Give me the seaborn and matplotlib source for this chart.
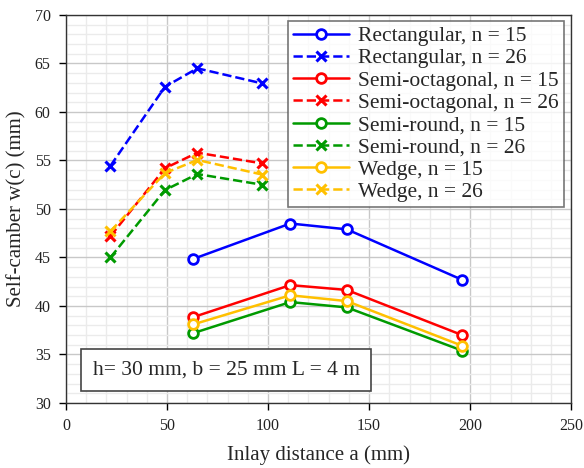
import pandas as pd
import matplotlib.pyplot as plt
import seaborn as sns
from matplotlib.ticker import MultipleLocator

sns.set_style("white")
plt.rcParams['font.family'] = ['Liberation Serif', 'DejaVu Serif']

# inlay distances
a_n15 = [63, 111, 139, 196]
a_n26 = [22, 49, 65, 97]

# self-camber values (mm)
rect_15 = [44.85, 48.5, 47.9, 42.7]
rect_26 = [54.45, 62.6, 64.5, 62.95]
octa_15 = [38.85, 42.15, 41.65, 37.0]
octa_26 = [47.2, 54.2, 55.8, 54.7]
round_15 = [37.2, 40.4, 39.85, 35.4]
round_26 = [45.0, 51.95, 53.6, 52.5]
wedge_15 = [38.1, 41.1, 40.5, 35.9]
wedge_26 = [47.7, 53.7, 55.05, 53.55]

series = [
    ("Rectangular, n = 15", a_n15, rect_15, "#0000FF", "-", "o"),
    ("Rectangular, n = 26", a_n26, rect_26, "#0000FF", "--", "x"),
    ("Semi-octagonal, n = 15", a_n15, octa_15, "#FF0000", "-", "o"),
    ("Semi-octagonal, n = 26", a_n26, octa_26, "#FF0000", "--", "x"),
    ("Semi-round, n = 15", a_n15, round_15, "#009A00", "-", "o"),
    ("Semi-round, n = 26", a_n26, round_26, "#009A00", "--", "x"),
    ("Wedge, n = 15", a_n15, wedge_15, "#FFC000", "-", "o"),
    ("Wedge, n = 26", a_n26, wedge_26, "#FFC000", "--", "x"),
]

fig, ax = plt.subplots(figsize=(5.84, 4.68), dpi=100)
fig.subplots_adjust(left=0.113, right=0.978, top=0.968, bottom=0.139)

for label, xs, ys, col, ls, mk in series:
    df = pd.DataFrame({'a': xs, 'w': ys})
    if mk == "o":
        sns.lineplot(data=df, x='a', y='w', ax=ax, color=col, linestyle=ls, lw=1.8,
                     marker='o', markersize=7, markerfacecolor='white',
                     markeredgecolor=col, markeredgewidth=2, label=label)
    else:
        sns.lineplot(data=df, x='a', y='w', ax=ax, color=col, linestyle=ls, lw=1.8,
                     marker='x', markersize=7, markeredgecolor=col,
                     markeredgewidth=2.2, label=label)

ax.set_xlim(0, 250)
ax.set_ylim(30, 70)
ax.xaxis.set_major_locator(MultipleLocator(50))
ax.xaxis.set_minor_locator(MultipleLocator(10))
ax.yaxis.set_major_locator(MultipleLocator(5))
ax.yaxis.set_minor_locator(MultipleLocator(1))
ax.grid(which='major', color='#c8c8c8', lw=1.0)
ax.grid(which='minor', color='#ebebeb', lw=1.0)
ax.set_axisbelow(True)
ax.tick_params(which='major', direction='out', length=5, width=1, labelsize=11.5,
               color='black', labelcolor='#222222', pad=6, bottom=True, left=True)
ax.tick_params(which='minor', length=0)
for s in ax.spines.values():
    s.set_color('#333333')
    s.set_linewidth(1.0)

ax.set_xlabel('Inlay distance a (mm)', fontsize=15, labelpad=8)
ax.set_ylabel('Self-camber w(c) (mm)', fontsize=15, labelpad=6)

leg = ax.legend(loc='upper right', bbox_to_anchor=(0.985, 0.985), fontsize=15.5,
                frameon=True, fancybox=False, edgecolor='#555555',
                handlelength=2.6, labelspacing=0.1, borderpad=0.25,
                handletextpad=0.4, borderaxespad=0)
leg.get_frame().set_linewidth(1.2)

ax.text(0.317, 0.085, 'h= 30 mm, b = 25 mm L = 4 m', transform=ax.transAxes,
        fontsize=15.5, ha='center', va='center',
        bbox=dict(boxstyle='square,pad=0.55', fc='white', ec='#444444', lw=1.2))

plt.savefig('out.png', dpi=100)
